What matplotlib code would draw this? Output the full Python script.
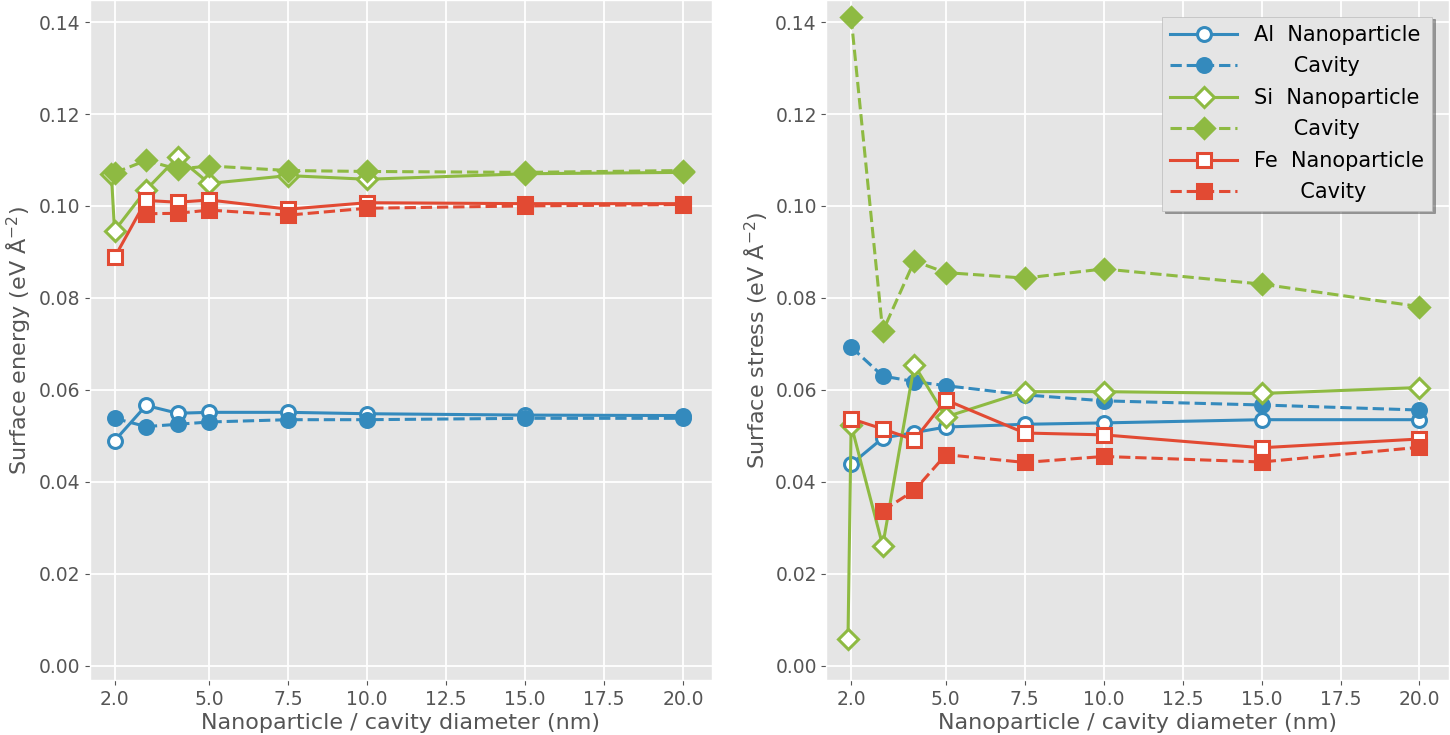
import matplotlib.pyplot as plt

# diameters (nm)
d_std = [2.0, 3.0, 4.0, 5.0, 7.5, 10.0, 15.0, 20.0]
d_si_np = [1.9, 2.0, 3.0, 4.0, 5.0, 7.5, 10.0, 15.0, 20.0]
d_fe_cav = [3.0, 4.0, 5.0, 7.5, 10.0, 15.0, 20.0]

# surface energy (eV/A^2)
energy_al_np = [0.0489, 0.0566, 0.0549, 0.0551, 0.0551, 0.0548, 0.0545, 0.0544]
energy_al_cav = [0.0538, 0.0520, 0.0525, 0.0530, 0.0535, 0.0535, 0.0538, 0.0538]
energy_si_np = [0.1070, 0.0946, 0.1035, 0.1106, 0.1049, 0.1066, 0.1058, 0.1070, 0.1073]
energy_si_cav = [0.1072, 0.1099, 0.1080, 0.1087, 0.1077, 0.1075, 0.1073, 0.1077]
energy_fe_np = [0.0888, 0.1012, 0.1008, 0.1013, 0.0993, 0.1007, 0.1005, 0.1005]
energy_fe_cav = [0.0983, 0.0984, 0.0991, 0.0980, 0.0995, 0.1000, 0.1003]

# surface stress (eV/A^2)
stress_al_np = [0.0438, 0.0495, 0.0507, 0.0519, 0.0525, 0.0528, 0.0535, 0.0535]
stress_al_cav = [0.0693, 0.0630, 0.0618, 0.0609, 0.0589, 0.0576, 0.0567, 0.0556]
stress_si_np = [0.0057, 0.0524, 0.0261, 0.0654, 0.0541, 0.0596, 0.0596, 0.0592, 0.0605]
stress_si_cav = [0.1410, 0.0727, 0.0880, 0.0855, 0.0843, 0.0863, 0.0830, 0.0781]
stress_fe_np = [0.0537, 0.0515, 0.0491, 0.0578, 0.0506, 0.0502, 0.0474, 0.0493]
stress_fe_cav = [0.0337, 0.0381, 0.0459, 0.0442, 0.0455, 0.0443, 0.0475]

BLUE = "#348ABD"
GREEN = "#8EBA42"
RED = "#E24A33"

plt.style.use("ggplot")
plt.rcParams["font.family"] = ["DejaVu Sans"]

fig = plt.figure(figsize=(14.5, 7.35), dpi=100)
ax1 = fig.add_axes([0.062, 0.075, 0.429, 0.925])
ax2 = fig.add_axes([0.570, 0.075, 0.429, 0.925])


def draw(ax, vals):
    (al_np, al_cav, si_np, si_cav, fe_np, fe_cav) = vals
    kw = dict(lw=2.2, ms=10, mew=2.2)
    ax.plot(d_std, al_np, "-", color=BLUE, marker="o", mfc="white", label="Al  Nanoparticle", **kw)
    ax.plot(d_std, al_cav, "--", color=BLUE, marker="o", label="      Cavity", **kw)
    ax.plot(d_si_np, si_np, "-", color=GREEN, marker="D", mfc="white", label="Si  Nanoparticle", **kw)
    ax.plot(d_std, si_cav, "--", color=GREEN, marker="D", label="      Cavity", **kw)
    ax.plot(d_std, fe_np, "-", color=RED, marker="s", mfc="white", label="Fe  Nanoparticle", **kw)
    ax.plot(d_fe_cav, fe_cav, "--", color=RED, marker="s", label="       Cavity", **kw)
    ax.set_xlim(1.22, 20.92)
    ax.set_ylim(-0.0031, 0.1448)
    ax.set_xticks([2.0, 5.0, 7.5, 10.0, 12.5, 15.0, 17.5, 20.0])
    ax.set_xticklabels(["2.0", "5.0", "7.5", "10.0", "12.5", "15.0", "17.5", "20.0"])
    ax.set_yticks([0.0, 0.02, 0.04, 0.06, 0.08, 0.10, 0.12, 0.14])
    ax.set_yticklabels(["0.00", "0.02", "0.04", "0.06", "0.08", "0.10", "0.12", "0.14"])
    ax.tick_params(labelsize=13.5, colors="#555555")
    ax.grid(True, color="white", lw=1.3)
    ax.set_xlabel("Nanoparticle / cavity diameter (nm)", fontsize=16, color="#555555", labelpad=3)


draw(ax1, (energy_al_np, energy_al_cav, energy_si_np, energy_si_cav, energy_fe_np, energy_fe_cav))
draw(ax2, (stress_al_np, stress_al_cav, stress_si_np, stress_si_cav, stress_fe_np, stress_fe_cav))

ax1.set_ylabel("Surface energy (eV Å$^{-2}$)", fontsize=16, color="#555555")
ax2.set_ylabel("Surface stress (eV Å$^{-2}$)", fontsize=16, color="#555555")

leg = ax2.legend(loc="upper right", fontsize=15, shadow=True, fancybox=False,
                 handlelength=3.2, borderaxespad=0.8, labelspacing=0.55)
leg.get_frame().set_edgecolor("#bbbbbb")
leg.get_frame().set_facecolor("#e5e5e5")
for t in leg.get_texts():
    t.set_color("black")

fig.savefig("out.png", dpi=100)
